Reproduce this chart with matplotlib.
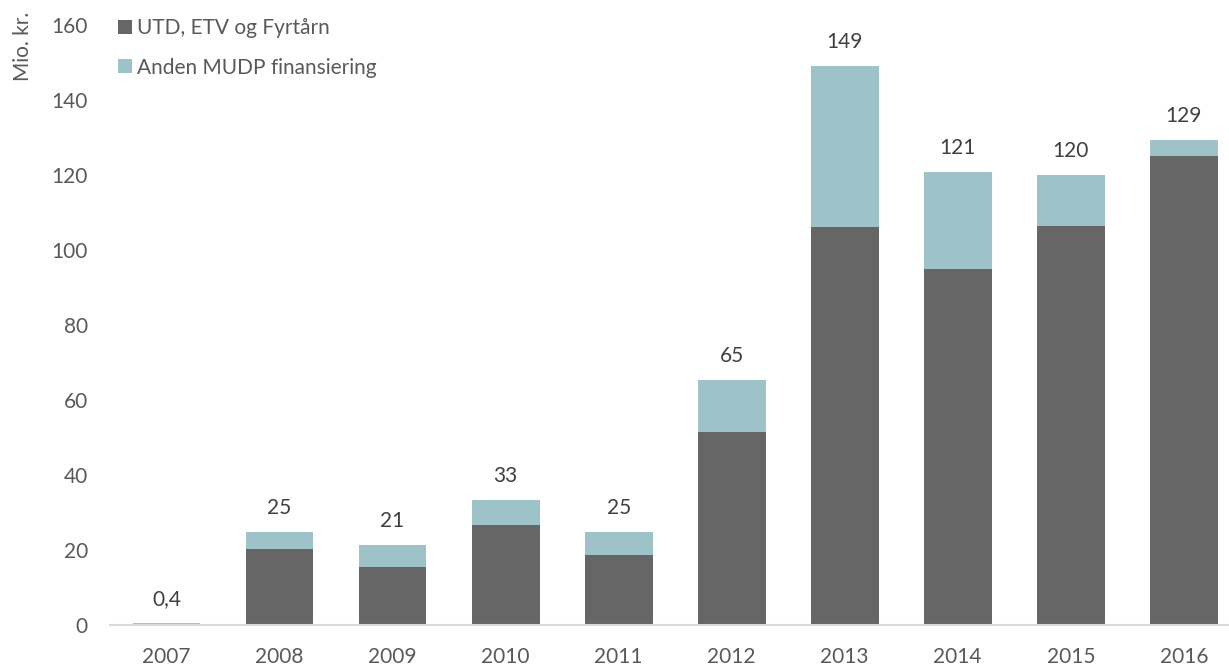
#!/usr/bin/env python
"""MUDP funding per year, stacked bars (UTD/ETV/Fyrtaarn vs other MUDP)."""

import numpy as np
import matplotlib
matplotlib.use("Agg")
import matplotlib.pyplot as plt

years = ["2007", "2008", "2009", "2010", "2011",
         "2012", "2013", "2014", "2015", "2016"]
utd_etv = [0.0, 20.1, 15.4, 26.5, 18.5, 51.4, 105.9, 94.9, 106.3, 125.0]
anden = [0.4, 4.5, 5.8, 6.7, 6.1, 13.7, 43.0, 25.8, 13.5, 4.2]
total_labels = ["0,4", "25", "21", "33", "25", "65", "149", "121", "120", "129"]

DARK = "#666666"
TEAL = "#9DC3C8"
TXT = "#595959"
FS = 15

plt.rcParams["font.family"] = ["Lato", "DejaVu Sans"]

fig = plt.figure(figsize=(12.29, 6.66), dpi=100)
ax = fig.add_axes([110 / 1229, 0.0623, 1 - 110 / 1229, 0.9009])

x = np.arange(len(years))
ax.bar(x, utd_etv, width=0.6, color=DARK, label="UTD, ETV og Fyrtårn")
ax.bar(x, anden, width=0.6, bottom=utd_etv, color=TEAL,
       label="Anden MUDP finansiering")

tops = np.array(utd_etv) + np.array(anden)
for xi, top, lbl in zip(x, tops, total_labels):
    ax.annotate(lbl, (xi, top), xytext=(0, 17.5), textcoords="offset points",
                ha="center", va="center", fontsize=FS, color="#404040")

ax.set_xlim(-0.5, 9.4)
ax.set_ylim(0, 160)
ax.set_yticks(range(0, 161, 20))
ax.set_xticks(x)
ax.set_xticklabels(years)
ax.tick_params(axis="both", length=0, labelsize=FS, labelcolor=TXT)
ax.tick_params(axis="y", pad=16)
ax.tick_params(axis="x", pad=16)
for side in ("top", "right", "left"):
    ax.spines[side].set_visible(False)
ax.spines["bottom"].set_color("#D9D9D9")
ax.spines["bottom"].set_linewidth(1.5)

fig.text(23 / 1229, 1 - 12 / 666, "Mio. kr.", rotation=90, ha="center",
         va="top", fontsize=FS, color=TXT)

leg = ax.legend(loc="upper left", bbox_to_anchor=(0.0, 1.024), frameon=False,
                fontsize=FS, handlelength=0.65, handleheight=0.65,
                handletextpad=0.25, labelspacing=0.92, borderaxespad=0)
for t in leg.get_texts():
    t.set_color(TXT)

fig.savefig("out.png", dpi=100)
